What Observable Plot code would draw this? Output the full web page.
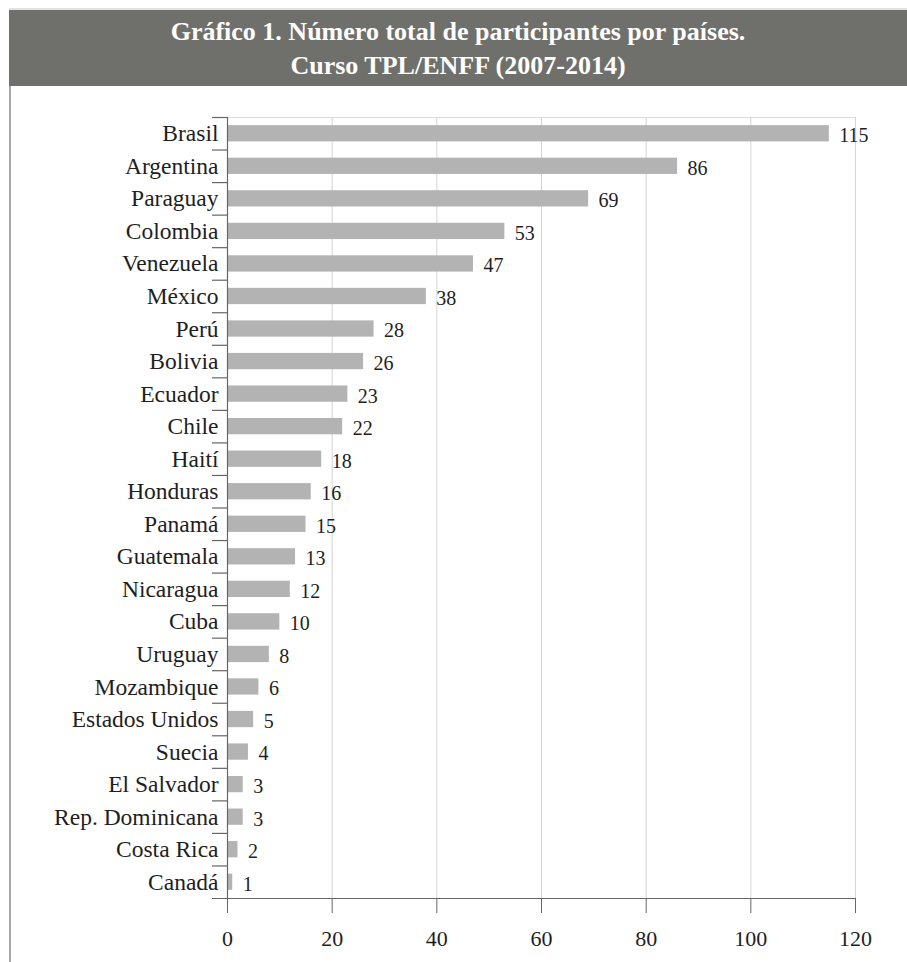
<!DOCTYPE html>
<html>
<head>
<meta charset="utf-8">
<script src="https://cdn.jsdelivr.net/npm/d3@7"></script>
<script src="https://cdn.jsdelivr.net/npm/@observablehq/plot@0.6"></script>
<style>
  html, body { margin: 0; padding: 0; background: #fff; }
  #page { position: relative; width: 907px; height: 962px; overflow: hidden; font-family: "Liberation Serif", "Times New Roman", serif; }
  #topline { position: absolute; left: 9px; top: 8px; width: 898px; height: 2px; background: #e2e2e2; }
  #banner { position: absolute; left: 9px; top: 10px; width: 898px; height: 76px; background: #6f6f6c; color: #fff; text-align: center; }
  #banner div { font-weight: bold; font-size: 26px; line-height: 34px; }
  #leftline { position: absolute; left: 9px; top: 86px; width: 2px; height: 876px; background: #a8a8a8; }
  #chart { position: absolute; left: 0; top: 86px; }
  #chart svg { display: block; }
</style>
</head>
<body>
<div id="page">
  <div id="topline"></div>
  <div id="banner">
    <div style="padding-top:5px">Gráfico 1. Número total de participantes por países.</div>
    <div>Curso TPL/ENFF (2007-2014)</div>
  </div>
  <div id="leftline"></div>
  <div id="chart"></div>
</div>
<script>
const countries = ["Brasil","Argentina","Paraguay","Colombia","Venezuela","México","Perú","Bolivia","Ecuador","Chile","Haití","Honduras","Panamá","Guatemala","Nicaragua","Cuba","Uruguay","Mozambique","Estados Unidos","Suecia","El Salvador","Rep. Dominicana","Costa Rica","Canadá"];
const participants = [115,86,69,53,47,38,28,26,23,22,18,16,15,13,12,10,8,6,5,4,3,3,2,1];
const xTicks = [0,20,40,60,80,100,120];

const data = countries.map((c, i) => ({country: c, value: participants[i]}));

const W = 907, H = 876;
const mT = 31, mB = 64, mL = 227, mR = 52;
const step = (H - mT - mB) / countries.length;
const tickLen = 15 / ((W - mL - mR) / 120);

const chart = Plot.plot({
  width: W,
  height: H,
  marginTop: mT,
  marginBottom: mB,
  marginLeft: mL,
  marginRight: mR,
  style: {fontFamily: "'Liberation Serif', 'Times New Roman', serif", color: "#1e1e1e", background: "transparent"},
  x: {domain: [0, 120], ticks: xTicks, round: false},
  y: {domain: countries, paddingInner: 0.5, paddingOuter: 0.25, round: false, label: null},
  marks: [
    Plot.frame({stroke: "#dcdcdc"}),
    Plot.gridX(xTicks, {stroke: "#d4d4d4", strokeOpacity: 1}),
    Plot.barX(data, {x: "value", y: "country", fill: "#b3b3b3"}),
    Plot.text(data, {x: "value", y: "country", text: d => String(d.value), textAnchor: "start", dx: 10, dy: 2, fontSize: 20, fill: "#1e1e1e"}),
    Plot.ruleX([0], {stroke: "#666", strokeWidth: 1.2}),
    Plot.ruleY(countries, {y: d => d, x1: -tickLen, x2: 0, dy: -step / 2, stroke: "#666", strokeWidth: 1.2}),
    Plot.ruleY([countries[countries.length - 1]], {y: d => d, x1: -tickLen, x2: 120, dy: step / 2, stroke: "#666", strokeWidth: 1.2}),
    Plot.axisX(xTicks, {tickSize: 15, tickPadding: 17, fontSize: 22, stroke: "#666", label: null, tickFormat: d => String(d)}),
    Plot.axisY({tickSize: 0, tickPadding: 9, fontSize: 23.5, label: null})
  ]
});
document.getElementById("chart").appendChild(chart);
</script>
</body>
</html>
